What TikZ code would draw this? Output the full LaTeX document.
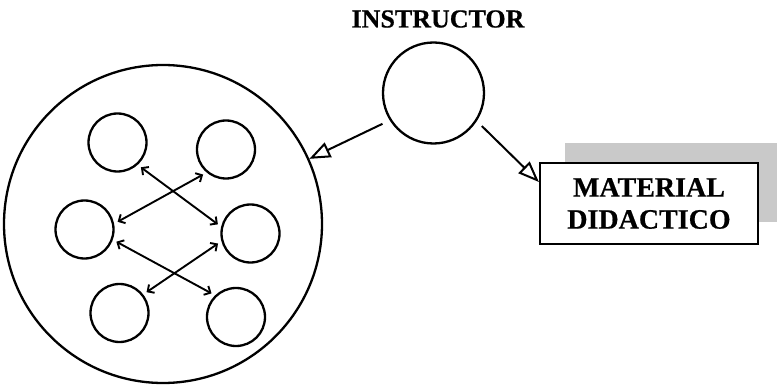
\documentclass[tikz,border=0pt]{standalone}
\usepackage{fontspec}
\setmainfont{Liberation Serif}[BoldFeatures={FakeBold=0.6}]
\usetikzlibrary{arrows.meta}
\begin{document}
\begin{tikzpicture}[x=1pt,y=-1pt,
  ring/.style={circle,draw,line width=2.3pt,inner sep=0pt},
  member/.style={ring,minimum size=58pt},
  link/.style={line width=1.9pt,{Straight Barb[length=5pt,width=10pt]}-{Straight Barb[length=5pt,width=10pt]},shorten <=4pt,shorten >=4pt},
  feed/.style={line width=2pt,-{Triangle[open,length=21pt,width=16pt,line width=2pt]}},
  label/.style={font=\bfseries,text=black}]
  \useasboundingbox (0,0) rectangle (777,390);

  % group of participants
  \node[ring,minimum size=318pt] (group) at (163,224) {};
  \node[member] (tl) at (117.5,142.5) {};
  \node[member] (tr) at (226,149.5) {};
  \node[member] (ml) at (84.5,229.5) {};
  \node[member] (mr) at (250.5,233.5) {};
  \node[member] (bl) at (119.5,313) {};
  \node[member] (br) at (236,317) {};

  % exchanges between participants
  \draw[link] (tl.-48) -- (mr.167);
  \draw[link] (ml.11) -- (tr.230);
  \draw[link] (ml.-20) -- (br.134);
  \draw[link] (mr.195) -- (bl.38);

  % instructor
  \node[label,font=\bfseries\fontsize{26}{30}\selectfont] (title) at (438,19) {INSTRUCTOR};
  \node[ring,minimum size=101pt] (instr) at (433.5,93) {};

  % teaching material box with its shaded backing
  \begin{scope}
    \clip (0,0) rectangle (777,390);
    \fill[gray!42] (565,143) rectangle (790,222);
  \end{scope}
  \node[draw,fill=white,line width=2.2pt,minimum width=218pt,minimum height=81pt,
        align=center,font=\bfseries\fontsize{28}{32}\selectfont,inner sep=0pt]
        (mat) at (649,203.5) {MATERIAL\\DIDACTICO};
  \coordinate (matin) at ([yshift=21.5pt]mat.west);

  % instructor relations
  \draw[feed,shorten <=8pt] (instr.212) -- (group.24);
  \draw[feed,shorten <=7pt] (instr.-33) -- (matin);
\end{tikzpicture}
\end{document}
